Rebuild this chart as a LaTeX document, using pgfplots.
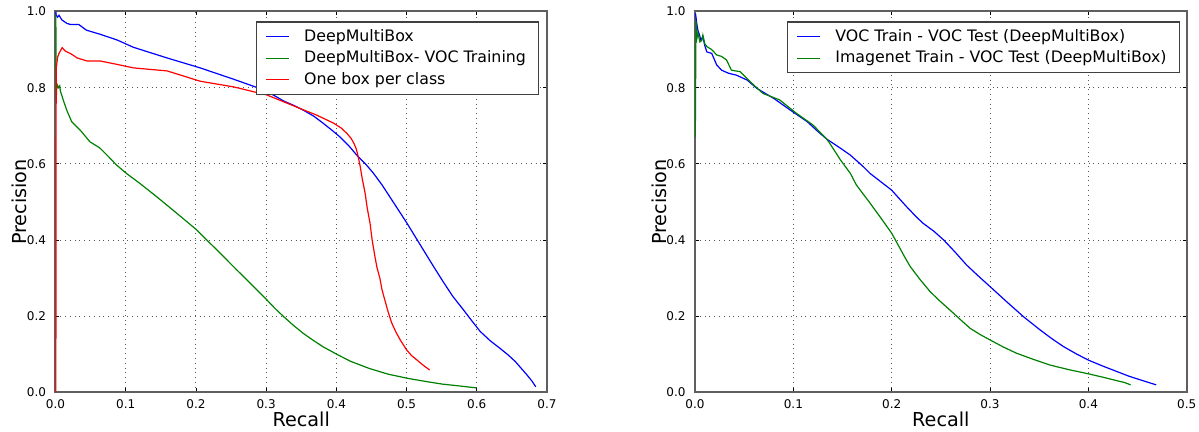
\documentclass[border=0pt]{standalone}
\usepackage{fontspec}
\setmainfont{DejaVu Sans}
\usepackage{pgfplots}
\pgfplotsset{compat=1.18}

\definecolor{mplblue}{RGB}{0,0,255}
\definecolor{mplgreen}{RGB}{0,128,0}
\definecolor{mplred}{RGB}{255,0,0}
\definecolor{framegray}{RGB}{95,95,95}

% 1 px of the reference = 0.5pt
\pgfplotsset{
    prpanel/.style={
        scale only axis,
        height=190.5pt,
        ymin=0, ymax=1,
        ytick={0,0.2,0.4,0.6,0.8,1.0},
        tick align=inside,
        tick pos=both,
        major tick length=2pt,
        tick style={black, line width=0.4pt},
        axis line style={framegray, line width=1pt},
        grid=major,
        major grid style={dotted, black!65, line width=0.45pt},
        /pgf/number format/assume math mode=true,
        /pgf/number format/fixed,
        /pgf/number format/fixed zerofill,
        /pgf/number format/precision=1,
        ticklabel style={font=\fontsize{6}{7}\selectfont},
        yticklabel style={xshift=-1.2pt},
        xlabel={Recall}, ylabel={Precision},
        label style={font=\fontsize{9.6}{11}\selectfont},
        xlabel style={at={(axis description cs:0.5,-0.0892)}, anchor=base},
        ylabel style={at={(axis description cs:-0.058,0.5)}, anchor=base},
        legend cell align=left,
        legend image code/.code={\draw[#1] (0pt,0pt) -- (11.5pt,0pt);},
        legend style={draw=black!75, line width=0.6pt, fill=white,
            font=\fontsize{7.9}{9}\selectfont,
            inner xsep=4.5pt, inner ysep=1.8pt, row sep=-0.4pt,
            nodes={inner sep=1.8pt},
            /tikz/every odd column/.append style={column sep=5.5pt}},
        every axis plot/.append style={line width=0.6pt, mark=none},
    },
}

\begin{document}
\begin{tikzpicture}
\useasboundingbox (-27.75pt,-19.75pt) rectangle (571.75pt,196.25pt);

% ---- left panel ----
\begin{axis}[prpanel,
    at={(0pt,0pt)}, anchor=south west,
    width=245.75pt,
    xmin=0, xmax=0.7,
    xtick={0,0.1,0.2,0.3,0.4,0.5,0.6,0.7},
    legend style={at={(0.984,0.974)}, anchor=north east},
]
\addplot[draw=mplblue] coordinates {
    (0.0005,1.0) (0.001,0.99) (0.003,0.985) (0.005,0.99) (0.009,0.978)
    (0.016,0.969) (0.021,0.966) (0.033,0.966) (0.044,0.951) (0.064,0.94)
    (0.088,0.925) (0.111,0.906) (0.159,0.878) (0.206,0.852) (0.254,0.822)
    (0.277,0.807) (0.292,0.797) (0.310,0.781) (0.325,0.765) (0.340,0.753)
    (0.353,0.741) (0.368,0.725) (0.381,0.707) (0.394,0.688) (0.405,0.671)
    (0.418,0.647) (0.430,0.621) (0.442,0.599) (0.453,0.575) (0.465,0.545)
    (0.476,0.514) (0.488,0.480) (0.500,0.446) (0.512,0.410) (0.524,0.374)
    (0.538,0.332) (0.552,0.291) (0.566,0.252) (0.581,0.217) (0.593,0.188)
    (0.605,0.160) (0.619,0.136) (0.633,0.116) (0.645,0.098) (0.655,0.081)
    (0.664,0.062) (0.672,0.045) (0.679,0.029) (0.684,0.015)
};
\addlegendentry{DeepMultiBox}
\addplot[draw=mplgreen] coordinates {
    (0.0005,0.99) (0.001,0.77) (0.002,0.81) (0.004,0.80) (0.006,0.805)
    (0.007,0.791) (0.011,0.768) (0.016,0.741) (0.023,0.711) (0.035,0.689)
    (0.049,0.658) (0.056,0.650) (0.063,0.642) (0.075,0.620) (0.087,0.597)
    (0.101,0.575) (0.120,0.549) (0.144,0.514) (0.173,0.470) (0.201,0.427)
    (0.215,0.401) (0.230,0.374) (0.244,0.348) (0.258,0.322) (0.273,0.295)
    (0.287,0.269) (0.301,0.243) (0.313,0.220) (0.325,0.199) (0.339,0.176)
    (0.353,0.155) (0.367,0.137) (0.381,0.120) (0.400,0.101) (0.420,0.082)
    (0.447,0.063) (0.474,0.048) (0.502,0.037) (0.527,0.029) (0.551,0.022)
    (0.576,0.017) (0.600,0.012)
};
\addlegendentry{DeepMultiBox- VOC Training}
\addplot[draw=mplred] coordinates {
    (0.0005,0.0) (0.0008,0.6) (0.001,0.85) (0.003,0.88) (0.005,0.89)
    (0.0095,0.905) (0.014,0.896) (0.021,0.89) (0.031,0.878) (0.045,0.870)
    (0.064,0.870) (0.088,0.861) (0.111,0.852) (0.159,0.844) (0.206,0.817)
    (0.254,0.802) (0.301,0.781) (0.325,0.763) (0.353,0.742) (0.372,0.728)
    (0.396,0.707) (0.407,0.694) (0.415,0.680) (0.421,0.667) (0.425,0.654)
    (0.428,0.641) (0.430,0.628) (0.432,0.611) (0.434,0.593) (0.437,0.560)
    (0.441,0.523) (0.444,0.484) (0.448,0.444) (0.451,0.400) (0.455,0.356)
    (0.458,0.327) (0.462,0.300) (0.465,0.270) (0.469,0.243) (0.474,0.210)
    (0.479,0.182) (0.485,0.158) (0.491,0.138) (0.500,0.112) (0.507,0.097)
    (0.515,0.085) (0.524,0.071) (0.533,0.059)
};
\addlegendentry{One box per class}
\end{axis}

% ---- right panel ----
\begin{axis}[prpanel,
    at={(319.75pt,0pt)}, anchor=south west,
    width=245.85pt,
    xmin=0, xmax=0.5,
    xtick={0,0.1,0.2,0.3,0.4,0.5},
    legend style={at={(0.986,0.974)}, anchor=north east},
]
\addplot[draw=mplblue] coordinates {
    (0.0005,0.995) (0.002,0.965) (0.003,0.95) (0.004,0.943) (0.006,0.925)
    (0.008,0.934) (0.010,0.91) (0.012,0.894) (0.017,0.890) (0.022,0.860)
    (0.027,0.846) (0.034,0.838) (0.042,0.833) (0.053,0.820) (0.063,0.798)
    (0.080,0.772) (0.097,0.741) (0.114,0.711) (0.125,0.685) (0.134,0.665)
    (0.148,0.641) (0.158,0.623) (0.171,0.593) (0.178,0.575) (0.189,0.553)
    (0.200,0.531) (0.215,0.488) (0.225,0.461) (0.232,0.444) (0.243,0.423)
    (0.253,0.400) (0.265,0.367) (0.276,0.335) (0.288,0.306) (0.300,0.278)
    (0.317,0.238) (0.334,0.199) (0.351,0.164) (0.363,0.141) (0.375,0.120)
    (0.388,0.101) (0.400,0.085) (0.415,0.069) (0.429,0.055) (0.441,0.043)
    (0.453,0.033) (0.469,0.020)
};
\addlegendentry{VOC Train - VOC Test (DeepMultiBox)}
\addplot[draw=mplgreen] coordinates {
    (0.0003,0.671) (0.001,0.975) (0.002,0.93) (0.003,0.943) (0.005,0.92)
    (0.007,0.925) (0.008,0.938) (0.010,0.915) (0.012,0.908) (0.017,0.90)
    (0.022,0.886) (0.027,0.882) (0.032,0.873) (0.037,0.846) (0.046,0.842)
    (0.056,0.816) (0.069,0.785) (0.086,0.768) (0.103,0.733) (0.120,0.702)
    (0.134,0.665) (0.137,0.654) (0.148,0.610) (0.158,0.575) (0.164,0.545)
    (0.178,0.497) (0.189,0.458) (0.200,0.418) (0.207,0.385) (0.214,0.352)
    (0.219,0.330) (0.229,0.296) (0.239,0.265) (0.249,0.240) (0.259,0.217)
    (0.270,0.191) (0.280,0.168) (0.290,0.152) (0.300,0.138) (0.313,0.120)
    (0.327,0.103) (0.344,0.087) (0.361,0.072) (0.380,0.060) (0.400,0.049)
    (0.415,0.040) (0.429,0.031) (0.437,0.026) (0.443,0.020)
};
\addlegendentry{Imagenet Train - VOC Test (DeepMultiBox)}
\end{axis}
\end{tikzpicture}
\end{document}
